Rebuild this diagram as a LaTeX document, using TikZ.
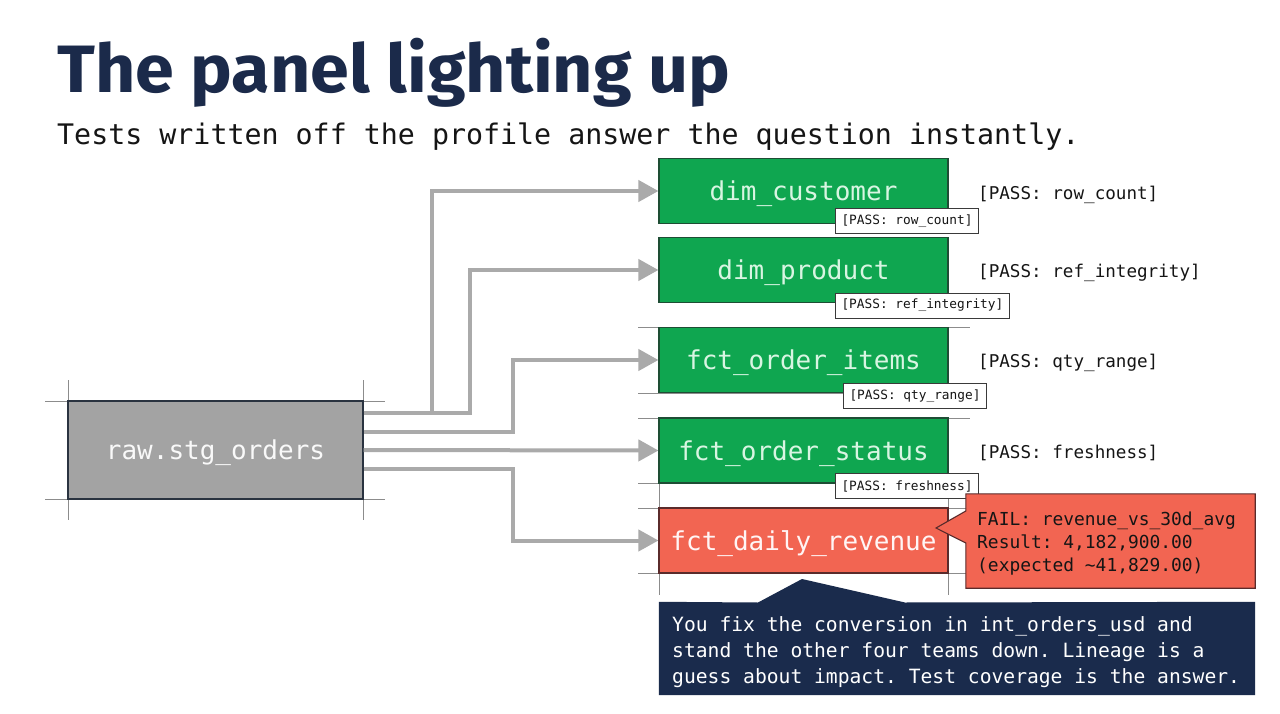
\documentclass[tikz,border=0pt]{standalone}
\usepackage{fontspec}
\setmonofont{DejaVu Sans Mono}
\newfontfamily\titlefont[FakeStretch=1.045]{Fira Sans}
\usetikzlibrary{arrows.meta,calc}
\definecolor{titlecol}{HTML}{1B2A4A}
\definecolor{greenfill}{HTML}{0FA650}
\definecolor{greentext}{HTML}{D8F5E2}
\definecolor{greenedge}{HTML}{1E4D34}
\definecolor{redfill}{HTML}{F26552}
\definecolor{rededge}{HTML}{5A2B2B}
\definecolor{grayfill}{HTML}{A3A3A3}
\definecolor{grayedge}{HTML}{2A3340}
\definecolor{arrowgray}{HTML}{AAAAAA}
\definecolor{cropgray}{HTML}{8C8C8C}
\definecolor{navy}{HTML}{1A2B4C}
\definecolor{labeledge}{HTML}{3A3A3A}
\definecolor{inktext}{HTML}{151515}
\tikzset{
  modelbox/.style={draw=greenedge, line width=1.1pt, fill=greenfill, text=greentext,
    minimum width=289pt, minimum height=65pt, inner sep=0pt,
    text height=25pt, text depth=6pt,
    font=\ttfamily\fontsize{26}{30}\selectfont},
  failmodel/.style={modelbox, fill=redfill, draw=rededge, text=white!96!red},
  rawbox/.style={draw=grayedge, line width=1.1pt, fill=grayfill, text=white!95!gray,
    minimum width=295pt, minimum height=98pt, inner sep=0pt,
    text height=25pt, text depth=6pt,
    font=\ttfamily\fontsize{26}{30}\selectfont},
  flow/.style={draw=arrowgray, line width=4pt, -{Triangle[length=20pt,width=21pt,fill=arrowgray]}},
  cropline/.style={draw=cropgray, line width=0.8pt},
  tag/.style={draw=labeledge, line width=1pt, fill=white, text=inktext, anchor=west,
    inner xsep=6pt, inner ysep=0pt, minimum height=25pt,
    font=\ttfamily\fontsize{12.8}{15}\selectfont},
  sidetag/.style={anchor=west, inner sep=0pt, text=inktext,
    font=\ttfamily\fontsize{17.6}{21}\selectfont},
  blocktext/.style={anchor=west, align=left, inner sep=0pt},
}
\begin{document}
\begin{tikzpicture}[x=1pt,y=-1pt]
\useasboundingbox[fill=white] (0,0) rectangle (1280,714);

% title and subtitle
\node[anchor=base west, inner sep=0pt, text=titlecol,
  font=\titlefont\bfseries\fontsize{67}{72}\selectfont] (title) at (57,93) {The panel lighting up};
\node[anchor=base west, inner sep=0pt, text=inktext,
  font=\ttfamily\fontsize{28.3}{34}\selectfont] (sub) at (57,145) {Tests written off the profile answer the question instantly.};

% crop lines
\draw[cropline] (45,401) -- (385,401);
\draw[cropline] (45,499) -- (385,499);
\draw[cropline] (68,380) -- (68,520);
\draw[cropline] (363,380) -- (363,520);
\draw[cropline] (638,327) -- (970,327);
\draw[cropline] (638,393) -- (970,393);
\draw[cropline] (638,418) -- (970,418);
\draw[cropline] (638,483) -- (970,483);
\draw[cropline] (638,508) -- (970,508);
\draw[cropline] (638,573) -- (970,573);
\draw[cropline] (659,483) -- (659,595);
\draw[cropline] (948,483) -- (948,595);

% nodes
\node[rawbox] (raw) at (215.5,450) {raw.stg\_orders};
\node[modelbox] (cust) at (803.5,191) {dim\_customer};
\node[modelbox] (prod) at (803.5,270) {dim\_product};
\node[modelbox] (items) at (803.5,360) {fct\_order\_items};
\node[modelbox] (status) at (803.5,450.5) {fct\_order\_status};
\node[failmodel] (rev) at (803.5,540.5) {fct\_daily\_revenue};

% connectors
\draw[flow] ([yshift=37pt]raw.east) -- ++(68,0) |- (cust.west);
\draw[flow] ([yshift=37pt]raw.east) -- ++(106,0) |- (prod.west);
\draw[flow] ([yshift=18pt]raw.east) -- ++(149,0) |- (items.west);
\draw[flow] (raw.east) -- (status.west);
\draw[flow] ([yshift=-19pt]raw.east) -- ++(149,0) |- (rev.west);

% attached tags
\node[tag] (t1) at (835,221.5) {[PASS: row\_count]};
\node[tag] (t2) at (835,305.5) {[PASS: ref\_integrity]};
\node[tag] (t3) at (843,396) {[PASS: qty\_range]};
\node[tag] (t4) at (835,486) {[PASS: freshness]};

% side tags
\node[sidetag] (s1) at (978,195) {[PASS: row\_count]};
\node[sidetag] (s2) at (978,273) {[PASS: ref\_integrity]};
\node[sidetag] (s3) at (978,363) {[PASS: qty\_range]};
\node[sidetag] (s4) at (978,453) {[PASS: freshness]};

% fail callout
\node[minimum width=289pt, minimum height=94pt, inner sep=0pt] (fail) at (1110.5,541) {};
\path[fill=redfill, draw=rededge, line width=1.1pt]
  (fail.north west) -- (fail.north east) -- (fail.south east) -- (fail.south west)
  -- ($(fail.west)+(0,2)$) -- (936,528) -- ($(fail.west)+(0,-30)$) -- cycle;
\node[blocktext, text=inktext,
  font=\ttfamily\fontsize{17.9}{23}\selectfont] (failtext) at (977,544)
  {FAIL: revenue\_vs\_30d\_avg\\Result: 4,182,900.00\\(expected \textasciitilde41,829.00)};

% navy note
\node[minimum width=596pt, minimum height=93pt, inner sep=0pt] (note) at (957,648.5) {};
\path[fill=navy]
  (note.north west) -- (758,602.5) -- (802,579) -- (905,602.5) -- (note.north east)
  -- (note.south east) -- (note.south west) -- cycle;
\node[blocktext, text=white,
  font=\ttfamily\fontsize{19.65}{26}\selectfont] (notetext) at (672,652)
  {You fix the conversion in int\_orders\_usd and\\stand the other four teams down. Lineage is a\\guess about impact. Test coverage is the answer.};
\end{tikzpicture}
\end{document}
